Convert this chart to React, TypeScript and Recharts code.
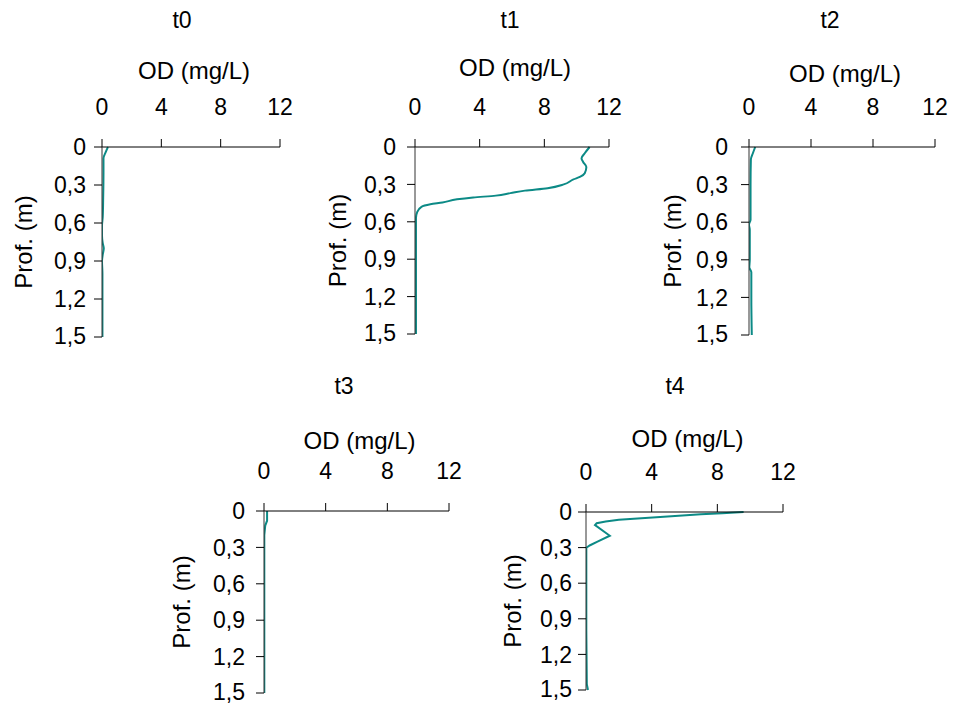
import { LineChart, Line, XAxis, YAxis, Label } from "recharts";

// dissolved oxygen (mg/L) profiles against depth (m), one per sampling time
const t0Depth = [0, 0.04, 0.09, 0.2, 0.4, 0.55, 0.62, 0.7, 0.76, 0.8, 0.85, 0.9, 1.0, 1.2, 1.5];
const t0Od = [0.4, 0.25, 0.1, 0.1, 0.08, 0.05, 0.0, 0.0, 0.05, 0.12, 0.05, 0.0, 0.03, 0.03, 0.03];

const t1Depth = [0, 0.05, 0.09, 0.12, 0.16, 0.21, 0.24, 0.26, 0.3, 0.33, 0.35, 0.37, 0.39, 0.405, 0.42, 0.445, 0.46, 0.48, 0.52, 0.57, 1.5];
const t1Od = [10.8, 10.5, 10.3, 10.4, 10.6, 10.5, 10.2, 9.8, 9.2, 8.2, 6.8, 5.9, 5.0, 3.6, 2.6, 1.7, 0.95, 0.4, 0.14, 0.06, 0.06];

const t2Depth = [0, 0.05, 0.1, 0.3, 0.58, 0.62, 0.66, 0.9, 0.96, 1.0, 1.2, 1.5];
const t2Od = [0.4, 0.25, 0.12, 0.1, 0.1, 0.0, 0.05, 0.05, 0.02, 0.15, 0.15, 0.18];

const t3Depth = [0, 0.08, 0.12, 0.2, 0.5, 1.0, 1.5];
const t3Od = [0.2, 0.2, 0.08, 0.02, 0.02, 0.02, 0.02];

const t4Depth = [0, 0.01, 0.02, 0.035, 0.05, 0.065, 0.08, 0.095, 0.11, 0.2, 0.25, 0.28, 0.3, 0.5, 1.0, 1.45, 1.5];
const t4Od = [9.6, 8.3, 7.0, 5.2, 3.6, 2.0, 1.2, 0.65, 0.55, 1.45, 0.7, 0.25, 0.02, 0.02, 0.02, 0.05, 0.12];

const odTicks = [0, 4, 8, 12];
const depthTicks = [0, 0.3, 0.6, 0.9, 1.2, 1.5];

const FONT = "'Liberation Sans', Arial, sans-serif";
const TITLE_FONT = "'Liberation Sans Narrow', 'Liberation Sans', Arial, sans-serif";
const LINE = "#0c8a86";
const AX_W = 100;
const AX_H = 100;
const TICK_SIZE = 23;
const LABEL_SIZE = 24;

const zip = (depth: number[], od: number[]) => depth.map((d, i) => ({ depth: d, od: od[i] }));

// plot box (x, y, w, h) in page pixels, plus where titles and axis labels sit
const panels = [
  { title: "t0", data: zip(t0Depth, t0Od), curve: "monotoneY", x: 102, y: 147, w: 178, h: 190, titleX: 182, titleY: 20, odGap: 85, profX: 23, yGap: 8 },
  { title: "t1", data: zip(t1Depth, t1Od), curve: "monotoneY", x: 415, y: 147, w: 194, h: 187, titleX: 510, titleY: 20, odGap: 88, profX: 337, yGap: 11 },
  { title: "t2", data: zip(t2Depth, t2Od), curve: "monotoneY", x: 749, y: 147, w: 186, h: 188, titleX: 830, titleY: 20, odGap: 82, profX: 672, yGap: 13 },
  { title: "t3", data: zip(t3Depth, t3Od), curve: "linear", x: 264, y: 511, w: 185, h: 182, titleX: 344, titleY: 386, odGap: 79, profX: 181, yGap: 11 },
  { title: "t4", data: zip(t4Depth, t4Od), curve: "linear", x: 586, y: 512, w: 197, h: 178, titleX: 675, titleY: 386, odGap: 82, profX: 512, yGap: 6 },
];

const comma = (v: number) => String(v).replace(".", ",");

function Panel({ p }: { p: (typeof panels)[number] }) {
  const left = p.x - AX_W;
  const top = p.y - AX_H;
  return (
    <div style={{ position: "absolute", left, top }}>
      <LineChart
        width={AX_W + p.w + 14}
        height={AX_H + p.h + 12}
        data={p.data}
        layout="vertical"
        margin={{ top: 0, right: 14, bottom: 12, left: 0 }}
      >
        <XAxis
          type="number"
          dataKey="od"
          orientation="top"
          domain={[0, 12]}
          ticks={odTicks}
          height={AX_H}
          tickSize={8}
          tickMargin={24}
          axisLine={{ stroke: "#000" }}
          tickLine={{ stroke: "#000" }}
          tick={{ fill: "#000", fontSize: TICK_SIZE, fontFamily: FONT }}
          allowDataOverflow
        >
          <Label
            content={({ viewBox }: any) => (
              <text
                x={viewBox.x + viewBox.width / 2 + 3}
                y={AX_H - p.odGap}
                dy="0.72em"
                textAnchor="middle"
                fontSize={LABEL_SIZE}
                fontFamily={FONT}
                fill="#000"
              >
                OD (mg/L)
              </text>
            )}
          />
        </XAxis>
        <YAxis
          type="number"
          dataKey="depth"
          domain={[0, 1.5]}
          ticks={depthTicks}
          width={AX_W}
          tickSize={8}
          tickMargin={p.yGap}
          tickFormatter={comma}
          axisLine={{ stroke: "#333" }}
          tickLine={{ stroke: "#000" }}
          tick={{ fill: "#000", fontSize: TICK_SIZE, fontFamily: FONT }}
        >
          <Label
            content={({ viewBox }: any) => {
              const cx = viewBox.x + (p.profX - left);
              const cy = viewBox.y + viewBox.height / 2;
              return (
                <text
                  x={cx}
                  y={cy}
                  transform={`rotate(-90 ${cx} ${cy})`}
                  textAnchor="middle"
                  dominantBaseline="central"
                  fontSize={LABEL_SIZE}
                  fontFamily={FONT}
                  fill="#000"
                >
                  Prof. (m)
                </text>
              );
            }}
          />
        </YAxis>
        <Line
          dataKey="od"
          type={p.curve as any}
          stroke={LINE}
          strokeWidth={2}
          dot={false}
          isAnimationActive={false}
        />
      </LineChart>
    </div>
  );
}

export default function App() {
  return (
    <div style={{ position: "absolute", left: 0, top: 0, width: 953, height: 706, background: "#fff" }}>
      {panels.map((p) => (
        <div key={p.title}>
          <div
            style={{
              position: "absolute",
              left: p.titleX - 40,
              top: p.titleY - 13,
              width: 80,
              textAlign: "center",
              fontFamily: TITLE_FONT,
              fontSize: 23,
              lineHeight: "26px",
              color: "#000",
            }}
          >
            {p.title}
          </div>
          <Panel p={p} />
        </div>
      ))}
    </div>
  );
}
